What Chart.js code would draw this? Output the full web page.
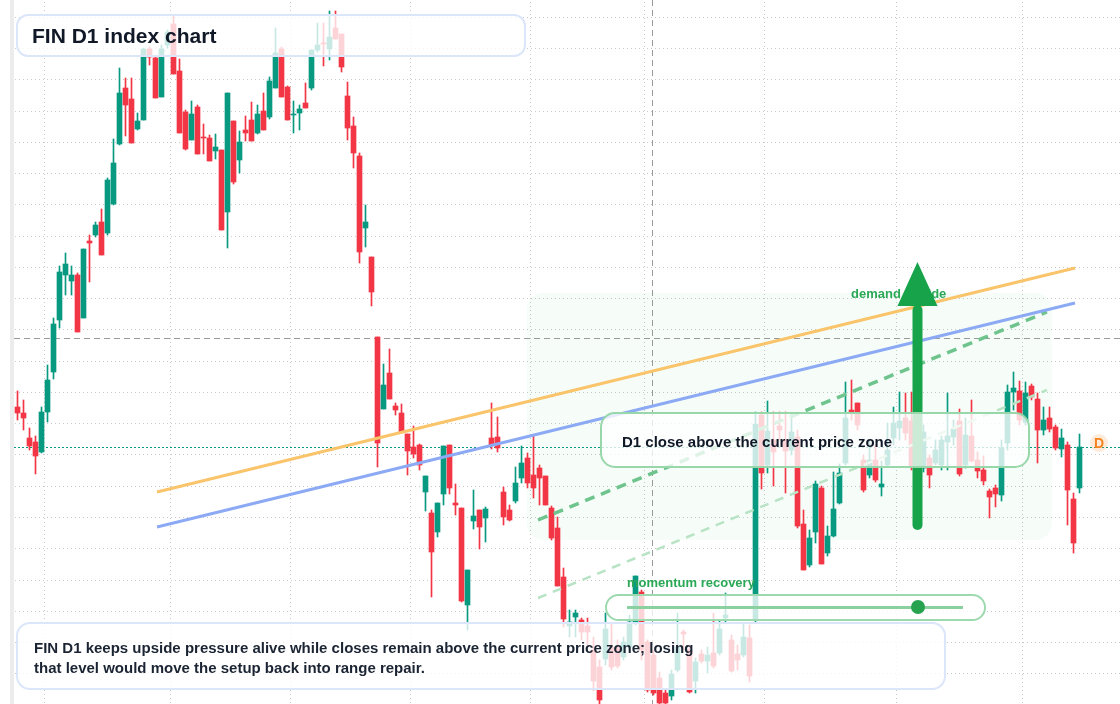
<!DOCTYPE html>
<html>
<head>
<meta charset="utf-8">
<script src="https://cdn.jsdelivr.net/npm/chart.js@4.4.1/dist/chart.umd.min.js"></script>
<style>
html,body{margin:0;padding:0;background:#ffffff;}
#wrap{position:relative;width:1120px;height:704px;overflow:hidden;font-family:"Liberation Sans",Arial,sans-serif;}
#wrap canvas{position:absolute;left:0;top:0;}
.box{position:absolute;box-sizing:border-box;background:rgba(255,255,255,0.78);white-space:nowrap;}
#titleBox{left:16px;top:14px;width:510px;height:43px;border:2px solid #dbe6fa;border-radius:12px;
  font-weight:bold;font-size:21px;line-height:39px;padding-left:14px;color:#111827;}
#noteBox{left:16px;top:622px;width:930px;height:68px;border:2px solid #dbe6fa;border-radius:14px;
  font-weight:bold;font-size:15px;line-height:20px;padding:14px 0 0 16px;color:#1b2433;}
#zoneBox{left:600px;top:412px;width:430px;height:56px;border:2px solid #98d7aa;border-radius:15px;
  font-weight:bold;font-size:15px;line-height:48px;padding:4px 0 0 20px;color:#111827;}
#momLabel{position:absolute;left:627px;top:575px;font-weight:bold;font-size:13px;line-height:16px;color:#2aa856;white-space:nowrap;}
#momBox{left:605px;top:594px;width:381px;height:27px;border:2px solid #9dd9ae;border-radius:14px;}
#momLine{position:absolute;left:20px;top:10px;width:336px;height:3px;background:#8bd19f;}
#momDot{position:absolute;left:304px;top:4px;width:14px;height:14px;border-radius:50%;background:#27a34f;}
</style>
</head>
<body>
<div id="wrap">
  <canvas id="chart" width="1120" height="704"></canvas>
  <div class="box" id="titleBox">FIN D1 index chart</div>
  <div class="box" id="zoneBox">D1 close above the current price zone</div>
  <div id="momLabel">momentum recovery</div>
  <div class="box" id="momBox"><div id="momLine"></div><div id="momDot"></div></div>
  <div class="box" id="noteBox">FIN D1 keeps upside pressure alive while closes remain above the current price zone; losing<br>that level would move the setup back into range repair.</div>
</div>
<script>
// ---- data (daily sessions, index points) ----
const sessions = Array.from({length: 178}, (_, i) => i);

const opens = [323,317,292,288,278,318,358,410,455,449,
  455,412,489,495,508,497,526,586,642,631,
  601,610,681,672,633,685,706,659,618,590,
  623,593,592,579,580,518,609,570,600,610,
  597,619,613,642,681,643,615,617,627,642,
  680,687,681,702,696,634,604,574,502,473,
  393,321,357,324,317,296,283,285,238,217,
  198,236,285,227,222,125,209,220,212,292,
  293,238,220,229,252,272,255,262,254,222,
  202,153,104,113,110,104,80,63,71,83,
  83,73,83,107,138,88,75,52,37,34,
  60,98,80,49,76,69,77,77,112,90,
  76,75,92,110,315,265,290,304,290,280,
  293,206,165,198,242,177,194,227,267,320,
  327,270,255,270,243,265,292,302,312,309,
  270,262,272,267,265,288,293,309,265,294,
  270,260,239,242,235,287,338,339,308,344,
  331,300,312,303,281,285,231,242];

const highs = [339,330,302,294,323,365,412,464,477,464,
  457,481,495,508,521,552,591,662,652,652,
  617,682,683,674,685,700,715,671,620,629,
  625,606,595,596,580,637,609,599,614,628,
  625,637,653,702,683,644,629,625,647,680,
  707,707,719,719,696,648,613,577,525,473,
  393,366,381,327,326,296,304,286,254,220,
  227,284,285,246,222,160,240,220,223,327,
  313,243,225,263,284,277,295,265,254,224,
  213,162,120,120,112,112,93,70,117,107,
  90,93,115,154,140,90,80,58,40,60,
  117,100,85,72,80,83,117,110,137,95,
  85,107,105,318,318,329,318,318,318,317,
  300,220,200,249,244,204,258,266,348,350,
  327,275,290,285,269,307,323,338,337,338,
  305,305,275,290,294,337,310,321,312,330,
  278,274,241,245,290,345,358,349,348,346,
  337,323,323,305,301,288,237,296];

const lows = [310,300,280,256,277,308,351,402,435,435,
  398,412,448,493,475,495,525,585,594,587,
  600,610,665,632,633,682,656,597,580,590,
  576,576,569,571,500,482,546,557,589,589,
  596,600,611,642,633,610,597,600,622,640,
  678,664,670,691,658,590,562,467,483,424,
  263,321,331,315,298,255,272,260,219,133,
  193,225,236,215,128,100,201,181,188,281,
  278,205,209,227,247,242,232,225,225,190,
  144,103,93,93,90,85,40,26,65,60,
  62,70,80,105,70,38,35,26,26,30,
  58,80,37,37,67,57,62,75,108,58,
  60,73,48,108,241,257,244,290,237,275,
  202,160,163,187,166,174,193,226,265,310,
  300,238,252,248,234,263,285,290,290,260,
  260,258,242,265,260,260,285,254,262,268,
  252,245,212,223,229,280,320,305,305,330,
  267,295,298,280,273,205,177,237];

const closes = [317,312,284,274,318,350,406,458,466,455,
  398,481,487,505,475,550,567,637,625,587,
  609,681,673,632,681,698,656,597,581,616,
  576,592,569,583,500,637,548,588,597,589,
  616,600,649,677,633,610,616,621,622,680,
  685,686,693,691,663,602,577,478,508,438,
  287,345,331,320,298,279,276,265,254,178,
  227,284,242,225,129,160,214,203,221,285,
  282,213,210,247,267,247,242,252,225,192,
  144,111,108,117,98,98,49,30,101,63,
  64,88,108,154,80,40,37,27,27,56,
  83,96,38,68,69,75,64,101,115,59,
  70,93,54,306,257,299,278,300,279,298,
  204,160,192,246,166,194,221,257,312,317,
  305,240,270,250,246,280,307,309,297,263,
  295,298,255,280,290,294,301,256,295,269,
  259,249,233,236,282,338,342,310,337,333,
  300,310,301,282,292,240,187,283];

// month-start sessions (vertical grid) and horizontal grid levels
const monthTicks = [15,36,55,76,95,114,135,158,177];
const gridLevels = [712.7,681.4,650.2,618.9,587.7,556.4,525.1,493.9,462.6,431.4,400.1,
  368.8,337.6,306.3,275.1,243.8,212.5,181.3,150.0,118.8,87.5,56.2];

// trend / channel lines (session, level)
const trendX = [23.25, 176.25];
const orangeY = [238, 462];
const blueY = [203, 427];
const pathX = [86.75, 171.58];
const pathUpperY = [210, 418];
const pathLowerY = [132, 340];

// annotation anchors
const zoneX = [84.9, 172.4];
const zoneY = [190, 437];
const crossSession = 106;
const crossLevel = 392;
const arrowSession = 150;
const arrowFrom = 200;
const arrowHeadBase = 424;
const arrowTip = 468;

const UP = '#089981', DOWN = '#f23645';
const candleColors = closes.map((c, i) => c >= opens[i] ? UP : DOWN);

function rr(ctx, x, y, w, h, r) {
  ctx.beginPath();
  ctx.moveTo(x + r, y);
  ctx.lineTo(x + w - r, y);
  ctx.arcTo(x + w, y, x + w, y + r, r);
  ctx.lineTo(x + w, y + h - r);
  ctx.arcTo(x + w, y + h, x + w - r, y + h, r);
  ctx.lineTo(x + r, y + h);
  ctx.arcTo(x, y + h, x, y + h - r, r);
  ctx.lineTo(x, y + r);
  ctx.arcTo(x, y, x + r, y, r);
  ctx.closePath();
}

const overlay = {
  id: 'overlay',
  beforeDraw(chart) {
    const c = chart.ctx;
    c.save();
    c.fillStyle = '#ececec';
    c.fillRect(10, 0, 4, chart.height);
    c.restore();
  },
  beforeDatasetsDraw(chart) {
    const c = chart.ctx, xs = chart.scales.x, ys = chart.scales.y, a = chart.chartArea;
    c.save();
    // demand zone
    const zx0 = xs.getPixelForValue(zoneX[0]), zx1 = xs.getPixelForValue(zoneX[1]);
    const zy0 = ys.getPixelForValue(zoneY[1]), zy1 = ys.getPixelForValue(zoneY[0]);
    rr(c, zx0, zy0, zx1 - zx0, zy1 - zy0, 16);
    c.fillStyle = 'rgba(34,197,94,0.04)';
    c.fill();
    // crosshair
    c.strokeStyle = '#9a9a9a';
    c.lineWidth = 1;
    c.setLineDash([6, 4]);
    const cx = Math.round(xs.getPixelForValue(crossSession)) - 0.5;
    const cy = Math.round(ys.getPixelForValue(crossLevel)) + 0.5;
    c.beginPath(); c.moveTo(cx, a.top); c.lineTo(cx, a.bottom); c.stroke();
    c.beginPath(); c.moveTo(a.left, cy); c.lineTo(chart.width, cy); c.stroke();
    // last price line
    const py = Math.round(ys.getPixelForValue(closes[closes.length - 1])) + 0.5;
    c.strokeStyle = UP;
    c.setLineDash([2, 2]);
    c.beginPath(); c.moveTo(a.left, py); c.lineTo(chart.width, py); c.stroke();
    c.restore();
  },
  afterDatasetsDraw(chart) {
    const c = chart.ctx, xs = chart.scales.x, ys = chart.scales.y;
    c.save();
    c.font = 'bold 13px "Liberation Sans", Arial, sans-serif';
    c.fillStyle = '#2aa856';
    c.textBaseline = 'alphabetic';
    c.fillText('demand upside', 851, 298);
    // arrow
    const ax = xs.getPixelForValue(arrowSession);
    const yb = ys.getPixelForValue(arrowFrom);
    const yh = ys.getPixelForValue(arrowHeadBase);
    const yt = ys.getPixelForValue(arrowTip);
    c.strokeStyle = '#16a34a';
    c.fillStyle = '#16a34a';
    c.lineWidth = 10;
    c.lineCap = 'round';
    c.beginPath(); c.moveTo(ax, yb - 5); c.lineTo(ax, yh + 4); c.stroke();
    c.beginPath();
    c.moveTo(ax - 20, yh); c.lineTo(ax + 20, yh); c.lineTo(ax, yt); c.closePath(); c.fill();
    // last price marker
    const ly = ys.getPixelForValue(closes[closes.length - 1]) - 4;
    c.beginPath(); c.arc(1099, ly, 9, 0, Math.PI * 2);
    c.fillStyle = 'rgba(249,146,60,0.18)'; c.fill();
    c.font = 'bold 14px "Liberation Sans", Arial, sans-serif';
    c.fillStyle = '#f5841f';
    c.textAlign = 'center'; c.textBaseline = 'middle';
    c.fillText('D', 1099, ly + 1);
    c.restore();
  }
};

const lineDs = (xArr, yArr, color, width, dash) => ({
  type: 'line',
  data: xArr.map((x, i) => ({x, y: yArr[i]})),
  borderColor: color, borderWidth: width, borderDash: dash || [],
  pointRadius: 0, tension: 0, order: 0, fill: false
});

new Chart(document.getElementById('chart'), {
  type: 'bar',
  data: {
    labels: sessions,
    datasets: [
      {
        label: 'body',
        data: opens.map((o, i) => [o, closes[i]]),
        backgroundColor: candleColors, borderWidth: 0,
        barThickness: 5, grouped: false, order: 1
      },
      {
        label: 'wick',
        data: lows.map((l, i) => [l, highs[i]]),
        backgroundColor: candleColors, borderWidth: 0,
        barThickness: 1, grouped: false, order: 2
      },
      lineDs(trendX, orangeY, '#f9c46a', 3),
      lineDs(trendX, blueY, '#8caaf4', 3),
      lineDs(pathX, pathUpperY, '#6ec48c', 3.5, [10, 7]),
      lineDs(pathX, pathLowerY, '#b8e3c4', 2.5, [9, 7])
    ]
  },
  options: {
    responsive: false,
    animation: false,
    events: [],
    layout: {padding: {left: 14, right: 0, top: 0, bottom: 0}},
    plugins: {legend: {display: false}, tooltip: {enabled: false}, title: {display: false}},
    scales: {
      x: {
        type: 'linear', min: -0.5833, max: 183.75, offset: false,
        afterBuildTicks: ax => { ax.ticks = monthTicks.map(v => ({value: v})); },
        ticks: {display: false},
        grid: {color: '#c9c9c9', lineWidth: 1, drawTicks: false},
        border: {display: false, dash: [1, 3], dashOffset: 2}
      },
      y: {
        type: 'linear', min: 26, max: 730,
        afterBuildTicks: ax => { ax.ticks = gridLevels.map(v => ({value: v})); },
        ticks: {display: false},
        grid: {color: '#c9c9c9', lineWidth: 1, drawTicks: false},
        border: {display: false, dash: [1, 3], dashOffset: 3}
      }
    }
  },
  plugins: [overlay]
});
</script>
</body>
</html>
